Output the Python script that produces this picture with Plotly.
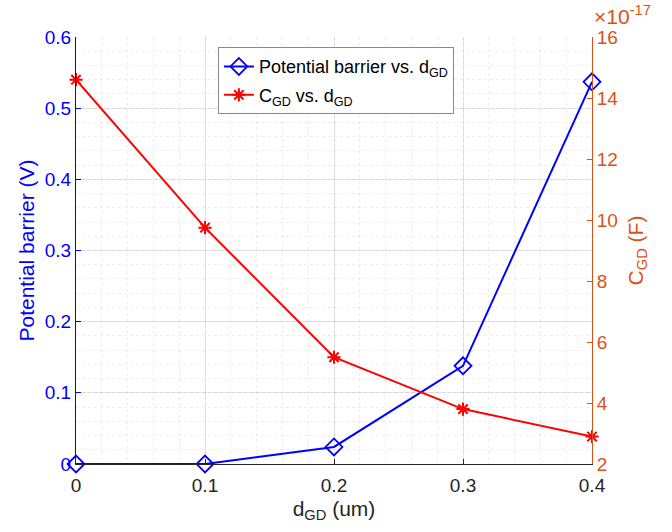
import plotly.graph_objects as go

d_gd = [0, 0.1, 0.2, 0.3, 0.4]
barrier = [0.0, 0.0, 0.024, 0.138, 0.537]
cgd_e17 = [14.6, 9.75, 5.5, 3.8, 2.9]   # in units of 1e-17 F
x_ticks = [0, 0.1, 0.2, 0.3, 0.4]
x_ticklabels = ["0", "0.1", "0.2", "0.3", "0.4"]
left_ticks = [0, 0.1, 0.2, 0.3, 0.4, 0.5, 0.6]
left_ticklabels = ["0", "0.1", "0.2", "0.3", "0.4", "0.5", "0.6"]
right_ticks = [2, 4, 6, 8, 10, 12, 14, 16]

BLUE = "#0000FF"
RED = "#FF0000"
ORANGE = "#D95319"
GRAY = "#262626"
FONT = "Liberation Sans, Arial, sans-serif"

fig = go.Figure()
fig.add_trace(go.Scatter(
    x=d_gd, y=barrier, mode="lines+markers", name="Potential barrier vs. d<sub>GD</sub>",
    legendgroup="a",
    line=dict(color=BLUE, width=2),
    marker=dict(symbol="diamond-open", size=13, color=BLUE, line=dict(width=1.8, color=BLUE)),
    cliponaxis=False, yaxis="y"))
fig.add_trace(go.Scatter(
    x=d_gd, y=cgd_e17, mode="lines+markers", name="C<sub>GD</sub> vs. d<sub>GD</sub>",
    legendgroup="b",
    line=dict(color=RED, width=2),
    marker=dict(symbol="asterisk-open", size=11, color=RED, line=dict(width=2, color=RED)),
    cliponaxis=False, yaxis="y2"))

grid = "rgba(0,0,0,0.09)"
minor = dict(ticks="", showgrid=True, gridcolor="rgba(0,0,0,0.07)", griddash="dot", gridwidth=1)

fig.update_layout(
    width=672, height=532,
    margin=dict(l=76, r=80, t=37, b=68),
    plot_bgcolor="white", paper_bgcolor="white",
    font=dict(family=FONT, size=19, color=GRAY),
    showlegend=True,
    legend=dict(x=0.275, y=0.976, xanchor="left", yanchor="top",
                bgcolor="white", bordercolor="#8a8a8a", borderwidth=1,
                font=dict(size=18, color="black"), tracegroupgap=2, itemwidth=30),
    xaxis=dict(range=[0, 0.4], tickvals=x_ticks, ticktext=x_ticklabels,
               ticks="inside", ticklen=5, tickcolor=GRAY, showline=True, linecolor=GRAY,
               linewidth=1, showgrid=True, gridcolor=grid, zeroline=False,
               tickfont=dict(size=19, color=GRAY), ticklabelstandoff=4,
               title=dict(text="d<sub>GD</sub> (um)", font=dict(size=21, color=GRAY), standoff=6),
               minor=dict(dtick=0.02, **minor)),
    yaxis=dict(range=[0, 0.6], tickvals=left_ticks, ticktext=left_ticklabels,
               ticks="inside", ticklen=5, tickcolor=BLUE, showline=True, linecolor=BLUE,
               linewidth=1, showgrid=True, gridcolor=grid, zeroline=False,
               tickfont=dict(size=19, color=BLUE),
               title=dict(text="Potential barrier (V)", font=dict(size=21, color=BLUE), standoff=4),
               minor=dict(dtick=0.02, **minor)),
    yaxis2=dict(range=[2, 16], tickvals=right_ticks, overlaying="y", side="right",
                ticks="inside", ticklen=5, tickcolor=ORANGE, showline=True, linecolor=ORANGE,
                linewidth=1, showgrid=False, zeroline=False,
                tickfont=dict(size=19, color=ORANGE),
                title=dict(text="C<sub>GD</sub> (F)", font=dict(size=21, color=ORANGE), standoff=10)),
)
fig.add_annotation(x=1.0, y=1.0, xref="paper", yref="paper", xanchor="left", yanchor="bottom",
                   xshift=0, yshift=7, showarrow=False,
                   text="×10<sup>-17</sup>", font=dict(size=21, color=ORANGE, family=FONT))
fig.write_html("out.html")
